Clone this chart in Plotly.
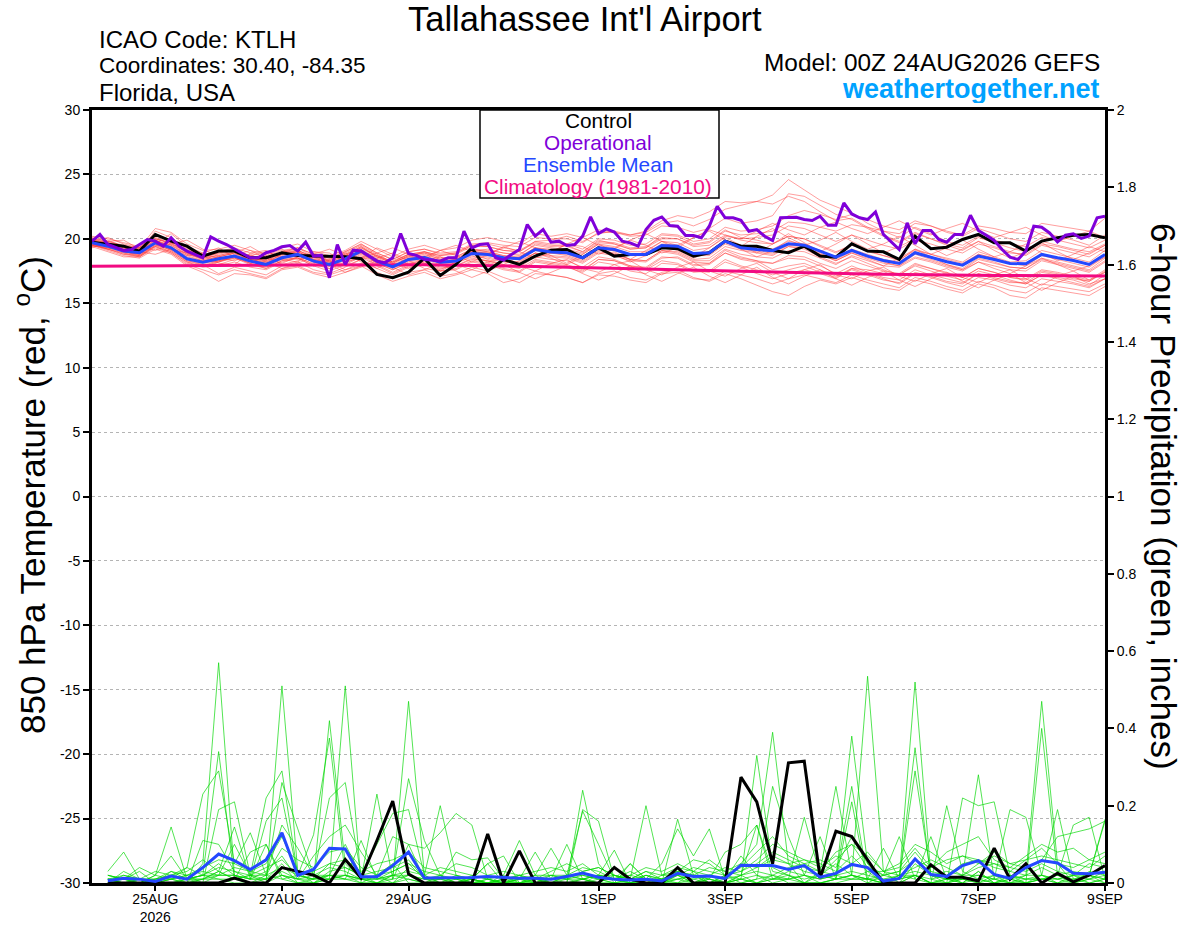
import pandas as pd
import plotly.graph_objects as go

# ---------------------------------------------------------------------------
# 850 hPa temperature (deg C), 6-hourly from 00Z 24AUG2026 (65 steps)
# ---------------------------------------------------------------------------
control_temp = [19.74, 19.56, 19.43, 19.05, 20.34, 19.82, 19.43, 18.66,
                19.05, 19.05, 18.53, 18.53, 18.92, 18.71, 18.66, 18.66,
                18.60, 18.45, 17.24, 16.98, 17.42, 18.50, 17.16, 18.01,
                19.30, 17.50, 18.40, 18.01, 18.66, 19.12, 19.17, 18.53,
                19.30, 18.66, 18.79, 18.79, 19.30, 19.23, 18.66, 18.92,
                19.82, 19.43, 19.43, 19.10, 18.92, 19.43, 18.66, 18.58,
                19.61, 19.05, 18.99, 18.40, 20.21, 19.23, 19.35, 19.95,
                20.34, 19.69, 19.69, 19.05, 19.82, 20.08, 20.28, 20.34, 20.08]

mean_temp = [19.69, 19.43, 19.05, 18.92, 19.69, 19.30, 18.45, 18.19,
             18.45, 18.66, 18.27, 18.01, 18.53, 18.79, 18.27, 18.01,
             18.45, 19.05, 18.27, 17.83, 18.40, 18.55, 18.19, 18.27,
             18.86, 18.79, 18.53, 18.45, 19.17, 18.97, 18.92, 18.53,
             19.30, 19.17, 18.79, 18.79, 19.48, 19.43, 18.86, 18.92,
             19.82, 19.30, 19.17, 19.08, 19.61, 19.51, 19.05, 18.58,
             19.10, 18.66, 18.32, 18.09, 18.92, 18.58, 18.22, 17.96,
             18.66, 18.40, 18.09, 18.06, 18.79, 18.53, 18.32, 18.01, 18.79]

clim_temp = [17.88, 17.89, 17.90, 17.90, 17.91, 17.92, 17.92, 17.93,
             17.93, 17.94, 17.94, 17.95, 17.95, 17.96, 17.96, 17.97,
             17.97, 17.98, 17.98, 17.98, 17.98, 17.98, 17.97, 17.96,
             17.94, 17.92, 17.90, 17.88, 17.85, 17.82, 17.79, 17.76,
             17.73, 17.70, 17.67, 17.64, 17.61, 17.58, 17.55, 17.52,
             17.49, 17.46, 17.43, 17.40, 17.37, 17.35, 17.33, 17.31,
             17.29, 17.27, 17.25, 17.23, 17.21, 17.20, 17.19, 17.18,
             17.17, 17.16, 17.15, 17.14, 17.13, 17.12, 17.12, 17.11, 17.11]

# operational run, 3-hourly (129 steps)
oper_temp = [19.82, 20.34, 19.56, 19.30, 19.10, 19.17, 19.56, 19.95,
             19.82, 19.43, 20.08, 19.43, 19.05, 18.79, 18.53, 20.15,
             19.82, 19.56, 19.23, 18.92, 18.53, 18.53, 18.92, 19.10,
             19.38, 19.48, 19.05, 19.74, 18.66, 18.71, 16.98, 19.56,
             18.01, 19.12, 19.05, 18.66, 18.27, 18.14, 18.53, 20.41,
             18.86, 18.71, 18.40, 18.35, 18.27, 18.53, 18.53, 20.59,
             19.30, 19.56, 19.61, 18.53, 18.35, 18.79, 19.17, 21.11,
             20.21, 20.72, 19.74, 19.82, 19.48, 19.56, 20.21, 21.70,
             20.41, 20.77, 20.52, 19.82, 19.69, 19.43, 20.72, 21.44,
             21.70, 21.03, 20.98, 20.26, 20.26, 20.08, 20.98, 22.53,
             21.63, 21.63, 21.44, 20.59, 20.72, 20.20, 19.87, 21.63,
             21.63, 21.68, 21.50, 21.42, 21.75, 21.06, 21.06, 22.79,
             21.93, 21.63, 21.50, 22.09, 20.34, 19.77, 19.17, 21.24,
             19.61, 20.65, 20.65, 19.95, 19.74, 20.34, 20.34, 21.83,
             20.65, 20.28, 19.87, 19.17, 18.58, 18.40, 19.05, 20.98,
             20.90, 20.46, 19.77, 20.28, 20.39, 20.03, 20.21, 21.63, 21.75]

# perturbed ensemble members (thin red lines)
member_temp = [
    [19.8, 20.1, 19.6, 19.3, 20.2, 19.8, 19.0, 18.7, 18.9, 19.2, 18.6, 18.3, 18.9, 19.3, 18.6, 18.4,
     18.9, 19.5, 18.8, 18.2, 18.6, 19.0, 18.7, 18.9, 19.5, 19.6, 19.3, 19.1, 19.8, 19.9, 20.2, 19.8,
     20.4, 20.6, 20.3, 20.5, 21.2, 21.4, 21.0, 21.5, 22.3, 22.6, 22.9, 23.4, 24.6, 23.8, 23.0, 22.5,
     22.0, 21.2, 20.6, 20.1, 20.9, 20.4, 19.8, 19.5, 20.2, 19.9, 19.6, 19.4, 20.1, 19.9, 19.6, 19.3, 19.9],
    [19.5, 19.1, 18.7, 18.5, 19.2, 18.8, 17.9, 17.4, 16.7, 17.3, 17.2, 16.9, 17.6, 17.8, 17.3, 17.0,
     17.4, 17.9, 17.2, 16.7, 17.1, 17.4, 16.9, 17.2, 17.6, 17.3, 16.6, 16.9, 17.5, 17.2, 17.0, 16.6,
     17.3, 17.5, 17.0, 16.8, 17.4, 17.6, 17.0, 16.7, 17.3, 16.9, 16.4, 15.9, 15.6, 16.3, 16.8, 16.5,
     17.0, 16.6, 16.2, 16.0, 16.8, 16.5, 16.1, 15.8, 16.5, 16.2, 15.6, 15.4, 16.2, 16.0, 15.8, 15.6, 16.3],
    [19.9, 19.6, 19.3, 19.1, 20.6, 20.1, 19.2, 18.6, 18.8, 19.1, 18.5, 18.4, 19.0, 19.1, 18.5, 18.2,
     18.7, 19.4, 18.6, 18.1, 18.7, 18.9, 18.6, 18.4, 19.0, 19.2, 18.9, 18.7, 19.6, 19.4, 19.5, 19.0,
     19.9, 19.6, 19.2, 19.3, 20.3, 20.2, 19.6, 19.8, 20.7, 20.1, 19.9, 19.6, 20.2, 20.0, 19.4, 18.9,
     19.6, 19.0, 18.7, 18.3, 19.2, 18.8, 18.5, 18.2, 19.0, 18.6, 18.2, 18.3, 19.1, 18.8, 18.5, 18.2, 19.1],
    [19.6, 19.3, 18.9, 18.6, 19.5, 19.0, 18.2, 17.8, 17.9, 18.2, 17.8, 17.6, 18.2, 18.5, 18.1, 17.7,
     18.1, 18.7, 18.0, 17.4, 18.0, 18.2, 17.7, 17.9, 18.4, 18.3, 18.0, 17.8, 18.6, 18.4, 18.3, 17.8,
     18.6, 18.4, 17.9, 17.7, 18.5, 18.6, 18.0, 18.1, 18.9, 18.4, 18.2, 18.1, 18.5, 18.4, 17.9, 17.3,
     17.9, 17.4, 17.0, 16.8, 17.6, 17.2, 16.9, 16.6, 17.3, 17.0, 16.7, 16.5, 17.2, 17.0, 16.8, 16.4, 17.2],
    [20.0, 19.7, 19.4, 19.3, 20.8, 20.5, 19.6, 19.1, 19.2, 19.5, 19.1, 18.8, 19.3, 19.6, 19.0, 18.7,
     19.1, 19.8, 19.2, 18.6, 19.2, 19.5, 19.1, 19.3, 19.9, 20.1, 19.8, 19.6, 20.4, 20.2, 20.4, 20.1,
     20.7, 20.5, 20.2, 20.3, 21.0, 20.9, 20.5, 20.8, 21.6, 21.2, 21.4, 21.8, 23.5, 23.3, 22.6, 21.9,
     21.5, 20.8, 20.2, 19.7, 20.4, 20.0, 19.6, 19.3, 20.1, 19.7, 19.3, 19.0, 19.8, 19.5, 19.2, 19.0, 19.6],
    [19.4, 19.0, 18.6, 18.6, 19.3, 18.9, 18.1, 17.9, 18.2, 18.6, 18.1, 17.8, 18.4, 18.7, 18.2, 17.9,
     18.4, 18.9, 18.1, 17.6, 18.2, 18.4, 18.0, 18.1, 18.6, 18.5, 18.2, 18.1, 18.9, 18.6, 18.5, 18.1,
     18.9, 18.7, 18.3, 18.2, 19.0, 18.8, 18.2, 18.1, 19.1, 18.6, 18.3, 17.6, 17.9, 18.1, 17.6, 17.1,
     17.7, 17.3, 16.9, 16.5, 17.3, 17.0, 16.6, 16.3, 17.0, 16.8, 16.4, 16.2, 16.9, 16.7, 16.5, 16.2, 16.9],
    [19.7, 19.5, 19.1, 18.9, 19.9, 19.4, 18.6, 18.3, 18.5, 18.7, 18.3, 18.0, 18.6, 18.9, 18.3, 18.0,
     18.5, 19.0, 18.3, 17.9, 18.5, 18.6, 18.2, 18.4, 19.0, 18.9, 18.6, 18.5, 19.2, 19.0, 18.9, 18.5,
     19.3, 19.2, 18.8, 18.9, 19.6, 19.5, 18.9, 19.0, 19.9, 19.5, 19.3, 19.2, 19.8, 19.6, 19.1, 18.6,
     19.2, 18.8, 18.4, 18.2, 19.0, 18.6, 18.3, 18.0, 18.8, 18.5, 18.1, 18.0, 18.8, 18.5, 18.3, 18.0, 18.8],
    [19.8, 19.6, 19.2, 18.9, 19.8, 19.5, 18.8, 18.5, 18.7, 19.0, 18.5, 18.3, 18.9, 19.1, 18.6, 18.3,
     18.8, 19.3, 18.6, 18.1, 18.7, 18.9, 18.4, 18.6, 19.2, 19.1, 18.9, 18.8, 19.5, 19.3, 19.2, 18.9,
     19.7, 19.6, 19.2, 19.3, 20.0, 20.0, 19.5, 19.7, 20.6, 20.3, 20.4, 20.6, 21.3, 21.2, 20.9, 20.6,
     21.1, 20.9, 20.6, 20.4, 21.2, 21.0, 20.6, 20.3, 21.0, 20.8, 20.5, 20.4, 21.2, 21.0, 20.8, 20.6, 21.6],
    [19.6, 19.2, 18.8, 18.7, 19.6, 19.1, 18.3, 18.0, 17.3, 17.8, 17.5, 17.2, 17.9, 18.2, 17.6, 17.3,
     17.8, 18.4, 17.7, 17.2, 17.8, 18.0, 17.5, 17.6, 18.2, 18.0, 17.6, 17.4, 18.2, 18.0, 17.8, 17.4,
     18.2, 18.0, 17.5, 17.3, 18.1, 18.0, 17.4, 17.5, 18.4, 17.9, 17.6, 17.2, 17.6, 17.9, 17.4, 17.0,
     17.6, 17.2, 16.8, 16.6, 17.4, 17.1, 16.7, 16.5, 17.3, 16.9, 16.6, 16.6, 17.4, 17.2, 16.9, 16.7, 17.5],
    [19.9, 19.7, 19.3, 19.0, 20.0, 19.7, 18.9, 18.6, 18.9, 19.1, 18.7, 18.4, 19.0, 19.3, 18.8, 18.5,
     19.0, 19.6, 18.9, 18.4, 19.0, 19.2, 18.9, 19.0, 19.6, 19.7, 19.5, 19.4, 20.1, 20.0, 20.0, 19.7,
     20.5, 20.5, 20.3, 20.6, 21.4, 21.8, 21.6, 22.1, 22.9, 22.8, 22.9, 22.7, 23.3, 22.9, 22.1, 21.4,
     21.6, 20.9, 20.3, 19.8, 20.5, 20.0, 19.5, 19.1, 19.8, 19.4, 19.0, 18.7, 19.5, 19.2, 18.9, 18.6, 19.3],
    [19.5, 19.3, 19.0, 18.8, 19.7, 19.2, 18.5, 18.2, 18.3, 18.5, 18.1, 17.7, 18.3, 18.6, 18.0, 17.7,
     18.2, 18.8, 18.1, 17.6, 18.1, 18.3, 17.8, 17.9, 18.5, 18.3, 17.9, 17.7, 18.4, 18.2, 18.0, 17.6,
     18.4, 18.3, 17.8, 17.6, 18.3, 18.1, 17.5, 17.4, 18.2, 17.8, 17.3, 16.9, 17.3, 17.6, 17.3, 16.9,
     17.7, 17.6, 17.3, 17.2, 18.0, 17.7, 17.4, 17.0, 17.7, 17.4, 17.0, 16.9, 17.6, 17.4, 17.1, 16.8, 17.6],
    [19.7, 19.4, 19.0, 18.8, 19.7, 19.2, 18.4, 18.2, 18.4, 18.8, 18.4, 18.1, 18.7, 19.0, 18.4, 18.1,
     18.6, 19.2, 18.5, 18.0, 18.6, 18.8, 18.4, 18.5, 19.1, 19.0, 18.7, 18.6, 19.3, 19.1, 19.0, 18.6,
     19.4, 19.2, 18.8, 18.7, 19.5, 19.4, 18.8, 18.8, 19.7, 19.3, 19.1, 18.9, 19.5, 19.4, 18.9, 18.4,
     19.0, 18.6, 18.2, 17.9, 18.8, 18.4, 18.0, 17.7, 18.5, 18.2, 17.8, 17.7, 18.5, 18.2, 17.9, 17.6, 18.5],
    [20.0, 19.8, 19.4, 19.2, 20.1, 19.6, 18.8, 18.4, 18.6, 18.9, 18.4, 18.1, 18.8, 19.0, 18.4, 18.2,
     18.7, 19.3, 18.7, 18.2, 18.8, 19.0, 18.7, 18.8, 19.4, 19.4, 19.1, 19.0, 19.8, 19.6, 19.6, 19.2,
     20.0, 19.9, 19.5, 19.6, 20.4, 20.3, 19.8, 20.0, 20.9, 20.6, 20.7, 21.0, 21.8, 22.2, 21.9, 21.5,
     21.9, 21.5, 21.0, 20.7, 21.4, 21.0, 20.5, 20.2, 20.8, 20.4, 20.0, 19.8, 20.5, 20.2, 19.9, 19.5, 20.3],
    [19.6, 19.2, 18.9, 18.7, 19.4, 19.0, 18.2, 18.0, 18.2, 18.5, 18.0, 17.7, 18.3, 18.5, 17.9, 17.5,
     18.0, 18.6, 17.9, 17.3, 17.9, 18.1, 17.5, 17.7, 18.3, 18.1, 17.7, 17.5, 18.3, 18.1, 17.9, 17.5,
     18.4, 18.3, 17.9, 17.8, 18.6, 18.5, 17.9, 18.0, 18.9, 18.5, 18.3, 18.1, 18.7, 18.6, 18.1, 17.7,
     18.3, 17.9, 17.5, 17.3, 18.1, 17.7, 17.3, 17.0, 17.7, 17.4, 17.0, 16.8, 17.5, 17.3, 17.0, 16.7, 17.4],
    [19.8, 19.5, 19.1, 19.0, 19.9, 19.5, 18.7, 18.3, 18.6, 18.9, 18.4, 18.2, 18.8, 19.0, 18.4, 18.1,
     18.6, 19.1, 18.4, 17.9, 18.5, 18.7, 18.3, 18.4, 19.0, 18.9, 18.6, 18.4, 19.1, 18.9, 18.7, 18.3,
     19.1, 18.9, 18.4, 18.3, 19.1, 19.0, 18.4, 18.5, 19.4, 19.1, 18.9, 18.7, 19.4, 19.2, 18.6, 18.1,
     18.6, 18.1, 17.6, 17.2, 17.9, 17.5, 17.1, 16.8, 17.5, 17.2, 16.8, 16.5, 17.2, 16.9, 16.6, 16.3, 16.9],
    [19.5, 19.2, 18.8, 18.6, 19.4, 18.9, 18.0, 17.6, 17.2, 17.6, 17.3, 17.0, 17.7, 17.9, 17.4, 17.2,
     17.6, 18.1, 17.4, 16.9, 17.4, 17.6, 17.1, 17.3, 17.8, 17.5, 17.0, 16.6, 17.3, 17.2, 17.0, 16.6,
     17.2, 17.1, 16.8, 16.6, 17.3, 17.4, 16.9, 16.8, 17.5, 17.2, 16.9, 16.5, 16.9, 17.2, 16.9, 16.6,
     17.2, 16.8, 16.5, 16.2, 17.0, 16.7, 16.3, 16.0, 16.7, 16.4, 16.0, 15.8, 16.5, 16.3, 16.1, 15.9, 16.5],
    [19.9, 19.5, 19.1, 18.9, 20.0, 19.7, 18.9, 18.5, 18.7, 19.0, 18.5, 18.2, 18.8, 19.1, 18.6, 18.3,
     18.8, 19.4, 18.7, 18.2, 18.8, 19.0, 18.5, 18.6, 19.2, 19.0, 18.7, 18.5, 19.3, 19.2, 19.1, 18.8,
     19.6, 19.4, 19.0, 19.0, 19.8, 19.7, 19.1, 19.3, 20.2, 20.0, 20.1, 20.3, 21.0, 20.8, 20.3, 19.8,
     20.3, 19.9, 19.5, 19.2, 19.9, 19.6, 19.2, 18.9, 19.6, 19.3, 18.9, 18.8, 19.6, 19.4, 19.1, 18.8, 19.5],
    [19.7, 19.4, 19.0, 18.8, 19.6, 19.1, 18.3, 18.1, 18.3, 18.6, 18.2, 17.9, 18.5, 18.7, 18.2, 17.9,
     18.3, 18.9, 18.2, 17.7, 18.3, 18.5, 18.1, 18.2, 18.8, 18.6, 18.3, 18.2, 18.9, 18.7, 18.6, 18.2,
     19.0, 18.8, 18.4, 18.3, 19.1, 18.9, 18.3, 18.3, 19.2, 18.8, 18.6, 18.5, 19.1, 19.0, 18.5, 18.0,
     18.7, 18.3, 17.9, 17.8, 18.5, 18.2, 17.8, 17.5, 18.2, 17.9, 17.6, 17.5, 18.3, 18.0, 17.7, 17.4, 18.2],
    [20.1, 19.8, 19.5, 19.3, 20.4, 19.9, 19.1, 18.8, 19.0, 19.3, 18.9, 18.6, 19.1, 19.3, 18.8, 18.5,
     19.0, 19.6, 18.9, 18.4, 19.0, 19.2, 18.8, 18.9, 19.5, 19.4, 19.1, 19.0, 19.7, 19.5, 19.4, 19.0,
     19.8, 19.7, 19.3, 19.4, 20.1, 20.0, 19.4, 19.5, 20.3, 19.9, 19.7, 19.6, 20.2, 20.0, 19.5, 19.0,
     19.5, 19.1, 18.7, 18.4, 19.1, 18.8, 18.4, 18.1, 18.8, 18.5, 18.1, 17.9, 18.7, 18.4, 18.1, 17.8, 18.6],
    [19.6, 19.4, 19.0, 18.7, 19.5, 19.2, 18.5, 18.2, 18.3, 18.7, 18.3, 18.0, 18.5, 18.8, 18.3, 18.0,
     18.4, 19.0, 18.4, 17.9, 18.4, 18.6, 18.2, 18.3, 18.9, 18.8, 18.5, 18.4, 19.1, 18.9, 18.8, 18.4,
     19.2, 19.1, 18.7, 18.7, 19.4, 19.3, 18.7, 18.7, 19.6, 19.2, 19.0, 18.8, 19.4, 19.3, 18.8, 18.3,
     18.9, 18.5, 18.1, 17.9, 18.6, 18.3, 17.9, 17.6, 18.4, 18.1, 17.8, 17.7, 18.4, 18.1, 17.8, 17.5, 18.3],
    [19.3, 19.8, 19.9, 19.2, 19.6, 20.4, 19.4, 18.9, 18.1, 18.0, 18.9, 19.1, 18.4, 18.2, 19.0, 18.9,
     18.2, 18.5, 19.3, 18.8, 18.0, 18.4, 19.1, 18.7, 18.2, 18.8, 19.4, 19.0, 18.5, 18.9, 19.6, 19.4,
     18.8, 19.2, 19.9, 19.5, 18.9, 19.3, 20.1, 20.6, 19.9, 19.4, 20.2, 20.8, 20.1, 19.5, 19.9, 20.5,
     19.8, 19.2, 19.6, 20.2, 19.5, 18.8, 19.3, 19.9, 19.2, 18.6, 19.0, 19.6, 18.9, 18.3, 18.8, 19.4, 19.0],
    [20.2, 20.0, 19.7, 19.4, 19.1, 19.6, 19.9, 19.2, 18.6, 18.9, 19.4, 18.7, 18.0, 18.3, 18.8, 18.2,
     17.6, 17.9, 18.5, 18.9, 18.3, 17.7, 17.5, 18.1, 18.7, 18.2, 17.8, 18.3, 18.9, 18.5, 18.0, 18.6,
     19.3, 18.8, 18.2, 18.7, 19.5, 19.1, 18.5, 19.0, 19.8, 19.2, 18.6, 19.1, 19.9, 19.4, 18.8, 18.3,
     18.9, 18.4, 17.9, 18.5, 19.2, 18.6, 18.0, 17.6, 18.2, 17.7, 17.3, 17.9, 18.5, 18.0, 17.5, 17.9, 18.6],
    [19.4, 19.6, 19.2, 19.5, 19.9, 19.3, 18.7, 18.9, 19.3, 18.6, 18.1, 18.7, 19.2, 18.5, 17.9, 18.4,
     18.9, 18.2, 17.7, 18.3, 18.8, 18.1, 17.6, 18.2, 18.9, 18.4, 18.0, 18.6, 19.3, 18.7, 18.1, 18.8,
     19.6, 19.0, 18.4, 19.1, 19.8, 19.2, 18.6, 19.3, 20.1, 19.5, 18.9, 19.6, 20.4, 19.7, 19.0, 19.6,
     20.3, 19.6, 18.9, 19.4, 20.0, 19.3, 18.7, 19.2, 19.8, 19.1, 18.5, 19.0, 19.7, 19.0, 18.4, 18.9, 19.5],
    [19.5, 19.2, 19.5, 19.0, 18.8, 19.2, 18.9, 18.4, 18.0, 18.4, 18.8, 18.2, 17.7, 18.1, 18.6, 18.0,
     17.4, 17.8, 18.3, 17.8, 17.2, 17.6, 18.1, 17.5, 17.0, 17.5, 18.0, 17.4, 16.9, 17.4, 17.9, 17.3,
     16.8, 17.3, 17.9, 17.2, 16.7, 17.3, 17.8, 17.1, 16.6, 17.2, 17.8, 17.0, 16.5, 17.1, 17.6, 16.9,
     16.4, 17.0, 17.5, 16.8, 16.3, 16.9, 17.4, 16.7, 16.2, 16.8, 17.3, 16.6, 16.0, 16.6, 17.1, 16.5, 16.9],
    [19.8, 19.5, 19.0, 19.3, 20.0, 19.6, 19.0, 18.8, 18.5, 18.3, 18.7, 19.0, 18.6, 18.4, 18.8, 19.2,
     18.7, 18.5, 18.9, 19.3, 18.8, 18.6, 19.1, 19.5, 19.0, 18.8, 19.3, 19.8, 19.3, 19.0, 19.6, 20.1,
     19.5, 19.3, 19.9, 20.4, 19.8, 19.5, 20.1, 20.7, 20.3, 20.0, 20.6, 21.2, 20.7, 20.3, 20.9, 21.3,
     20.8, 20.4, 20.9, 21.4, 20.8, 20.3, 20.8, 21.2, 20.6, 20.1, 20.5, 20.9, 20.3, 19.8, 20.2, 20.6, 20.1],
    [19.6, 19.9, 19.4, 18.9, 19.4, 19.9, 19.3, 18.6, 18.2, 18.7, 19.1, 18.5, 18.1, 18.6, 18.9, 18.3,
     17.9, 18.4, 18.7, 18.1, 17.7, 18.3, 18.6, 18.0, 17.6, 18.2, 18.5, 17.9, 17.5, 18.1, 18.4, 17.7,
     17.4, 18.0, 18.3, 17.6, 17.2, 17.8, 18.2, 17.5, 17.1, 17.7, 18.1, 17.4, 16.9, 17.6, 18.0, 17.2,
     16.9, 17.5, 17.8, 17.1, 16.7, 17.3, 17.7, 17.0, 16.6, 17.2, 17.6, 16.9, 16.4, 17.1, 17.5, 16.8, 17.4],
]

# ---------------------------------------------------------------------------
# 6-hour precipitation (inches), 06Z 24AUG2026 .. 00Z 9SEP2026 (64 steps)
# ---------------------------------------------------------------------------
control_pcp = [0, 0, 0, 0, 0, 0, 0, 0, 0.013, 0, 0, 0.04, 0.03, 0.02, 0, 0.061,
               0.013, 0.11, 0.212, 0.023, 0, 0, 0, 0, 0.127, 0, 0.083, 0, 0, 0, 0, 0,
               0.04, 0.01, 0, 0, 0.04, 0, 0, 0, 0.274, 0.21, 0.05, 0.311, 0.315, 0.013, 0.134, 0.12,
               0.06, 0, 0, 0, 0.047, 0.015, 0.015, 0.005, 0.09, 0.01, 0.05, 0, 0.025, 0.003, 0.02, 0.045]

mean_pcp = [0.006, 0.012, 0.01, 0.004, 0.018, 0.01, 0.04, 0.075, 0.058, 0.035, 0.06, 0.13, 0.02, 0.035, 0.09, 0.088,
            0.016, 0.016, 0.045, 0.08, 0.013, 0.013, 0.013, 0.014, 0.017, 0.015, 0.012, 0.012, 0.01, 0.017, 0.026, 0.015,
            0.01, 0.008, 0.01, 0.005, 0.025, 0.017, 0.018, 0.012, 0.046, 0.045, 0.045, 0.035, 0.045, 0.015, 0.025, 0.048,
            0.04, 0.005, 0.012, 0.062, 0.022, 0.017, 0.045, 0.058, 0.022, 0.012, 0.04, 0.058, 0.052, 0.025, 0.024, 0.028]

member_pcp = [
    [0.03, 0.08, 0.01, 0, 0.02, 0, 0.05, 0.57, 0.02, 0, 0.01, 0.05, 0, 0, 0.02, 0.1,
     0.02, 0, 0, 0.01, 0, 0.02, 0, 0, 0, 0, 0.01, 0, 0, 0, 0.24, 0.05,
     0, 0, 0.01, 0, 0.02, 0, 0, 0.01, 0.05, 0.1, 0.39, 0.05, 0, 0.02, 0.05, 0.02,
     0, 0, 0.01, 0.02, 0, 0.01, 0, 0.03, 0, 0.01, 0.02, 0.47, 0.05, 0, 0.02, 0.01],
    [0.02, 0.01, 0.04, 0.02, 0.145, 0.01, 0.02, 0.34, 0.01, 0.02, 0, 0.51, 0.03, 0, 0.01, 0.02,
     0, 0.02, 0.05, 0, 0, 0, 0.02, 0, 0.01, 0, 0, 0.02, 0, 0.01, 0, 0.02,
     0.01, 0, 0, 0, 0, 0.03, 0, 0.02, 0, 0.01, 0.02, 0, 0, 0, 0.01, 0.38,
     0.05, 0, 0, 0.02, 0, 0, 0.01, 0, 0.02, 0, 0, 0.01, 0, 0.02, 0.01, 0.03],
    [0, 0.03, 0.01, 0, 0.01, 0.04, 0.23, 0.29, 0.05, 0.13, 0.02, 0.01, 0, 0.01, 0.42, 0.05,
     0.01, 0, 0.02, 0.03, 0.02, 0, 0.01, 0, 0, 0.01, 0, 0, 0.01, 0, 0, 0.01,
     0, 0.05, 0.01, 0, 0.01, 0, 0.02, 0, 0.01, 0.33, 0.04, 0.02, 0, 0, 0.01, 0.02,
     0.535, 0.03, 0, 0.05, 0.02, 0, 0.01, 0.01, 0, 0.02, 0, 0.01, 0.01, 0, 0.03, 0.02],
    [0.01, 0, 0, 0.02, 0.07, 0.01, 0, 0.19, 0.21, 0.02, 0.22, 0.29, 0.02, 0.01, 0.01, 0.51,
     0, 0, 0.02, 0.01, 0, 0.01, 0, 0.02, 0.01, 0, 0.02, 0, 0, 0.02, 0.01, 0,
     0.02, 0, 0, 0.01, 0, 0, 0.01, 0, 0.02, 0, 0.01, 0.02, 0, 0.03, 0.25, 0.02,
     0.01, 0, 0.01, 0.52, 0.02, 0.01, 0, 0.03, 0, 0, 0.01, 0.02, 0.01, 0.02, 0, 0.01],
    [0.02, 0.01, 0.03, 0, 0.01, 0, 0.11, 0.1, 0.03, 0.01, 0.01, 0.26, 0.14, 0.02, 0.02, 0.01,
     0.01, 0.23, 0.01, 0.47, 0.02, 0, 0, 0.01, 0, 0.02, 0, 0.01, 0, 0, 0.19, 0.16,
     0.01, 0, 0.02, 0, 0.01, 0.02, 0, 0, 0, 0.01, 0.25, 0.12, 0.02, 0, 0, 0.01,
     0.03, 0, 0.02, 0.01, 0, 0, 0.02, 0.28, 0.01, 0, 0.02, 0.02, 0, 0.01, 0.02, 0],
    [0, 0, 0.01, 0.01, 0.02, 0.03, 0.06, 0.03, 0.145, 0.01, 0.16, 0.22, 0.02, 0.125, 0.375, 0.02,
     0.01, 0.01, 0.02, 0.27, 0.11, 0.02, 0, 0.01, 0, 0, 0.01, 0, 0.02, 0.01, 0.01, 0,
     0, 0.01, 0.2, 0.02, 0.02, 0, 0.01, 0, 0.01, 0.02, 0, 0.01, 0.17, 0.02, 0.01, 0.21,
     0, 0.02, 0.01, 0.35, 0.01, 0.02, 0, 0.01, 0, 0.01, 0, 0.40, 0.02, 0, 0.01, 0.02],
    [0.01, 0.01, 0, 0.02, 0.01, 0.02, 0.03, 0.02, 0.1, 0.02, 0.02, 0.15, 0.09, 0.02, 0.22, 0.26,
     0.02, 0.1, 0.18, 0.19, 0.02, 0.2, 0.02, 0.01, 0.05, 0.07, 0, 0.01, 0.01, 0.1, 0.01, 0.02,
     0.085, 0, 0.02, 0.01, 0.03, 0.02, 0, 0.02, 0.01, 0, 0.01, 0.03, 0.02, 0.01, 0.02, 0.25,
     0.01, 0, 0.02, 0.02, 0, 0.2, 0.03, 0.01, 0.02, 0.01, 0, 0.02, 0.19, 0.01, 0, 0.01],
    [0, 0.02, 0.01, 0, 0.01, 0, 0.01, 0.03, 0.01, 0.08, 0.1, 0.02, 0.01, 0.07, 0.12, 0.15,
     0.08, 0.02, 0.12, 0.1, 0.09, 0.13, 0.18, 0.15, 0.01, 0.02, 0.11, 0.02, 0.09, 0.02, 0.02, 0.01,
     0.01, 0.03, 0.01, 0, 0.165, 0.02, 0.01, 0, 0.02, 0.15, 0.01, 0.01, 0.02, 0.01, 0.02, 0.01,
     0.01, 0.09, 0.01, 0.02, 0.01, 0, 0.22, 0.2, 0.21, 0.02, 0.01, 0.01, 0.02, 0.01, 0.02, 0.165],
    [0.02, 0.01, 0, 0.01, 0.03, 0.01, 0.02, 0.02, 0.02, 0.01, 0.1, 0.01, 0.02, 0.01, 0.02, 0.02,
     0.01, 0.01, 0.02, 0.02, 0.01, 0.01, 0.08, 0.06, 0.065, 0.01, 0.01, 0.08, 0.01, 0.02, 0.186, 0.1,
     0.01, 0.05, 0.01, 0.05, 0.14, 0.07, 0.14, 0.01, 0.07, 0.02, 0.01, 0.01, 0.02, 0.12, 0.01, 0.01,
     0.01, 0.02, 0.12, 0.01, 0.12, 0.01, 0.01, 0.02, 0.01, 0.19, 0.17, 0.02, 0.01, 0.02, 0.02, 0.16],
    [0, 0, 0.01, 0.03, 0.02, 0.04, 0.02, 0.01, 0.01, 0.02, 0.01, 0.02, 0.01, 0.01, 0.02, 0.01,
     0.11, 0.01, 0.01, 0.1, 0.01, 0.02, 0.01, 0.01, 0.05, 0, 0.01, 0.01, 0.02, 0.02, 0.01, 0.02,
     0.02, 0.01, 0.01, 0.01, 0.01, 0.02, 0.01, 0.08, 0.1, 0.15, 0.03, 0.02, 0.01, 0.02, 0.01, 0.02,
     0.01, 0.01, 0.01, 0.29, 0.02, 0.01, 0.02, 0.02, 0.01, 0.02, 0.01, 0.01, 0.02, 0.15, 0.17, 0.01],
    [0.01, 0, 0, 0, 0, 0.01, 0.02, 0.05, 0.02, 0.01, 0.03, 0.07, 0.01, 0, 0.03, 0.04,
     0.02, 0.03, 0.04, 0.06, 0.01, 0, 0, 0.01, 0, 0.01, 0.02, 0.03, 0.04, 0.03, 0.05, 0.02,
     0.01, 0, 0, 0.02, 0.04, 0.03, 0.06, 0.03, 0.02, 0.04, 0.06, 0.05, 0.03, 0.02, 0.06, 0.1,
     0.04, 0.02, 0.03, 0.08, 0.03, 0.02, 0.05, 0.06, 0.04, 0.03, 0.06, 0.09, 0.05, 0.04, 0.06, 0.08],
    [0, 0, 0, 0.01, 0.01, 0.02, 0, 0.02, 0.04, 0.03, 0.05, 0.12, 0.03, 0.02, 0.04, 0.03,
     0.01, 0.02, 0, 0.04, 0.02, 0.04, 0.03, 0.02, 0.01, 0, 0, 0, 0.01, 0.01, 0.03, 0.04,
     0.02, 0.01, 0.03, 0.01, 0.02, 0.04, 0.03, 0.02, 0.03, 0.06, 0.1, 0.08, 0.06, 0.05, 0.03, 0.07,
     0.03, 0.03, 0.02, 0.04, 0.06, 0.04, 0.02, 0.05, 0.07, 0.05, 0.04, 0.06, 0.12, 0.13, 0.14, 0.16],
    [0.01, 0.01, 0.01, 0, 0.03, 0.02, 0.04, 0.06, 0.05, 0.03, 0.02, 0.09, 0.06, 0.04, 0.08, 0.09,
     0.04, 0.02, 0.03, 0.05, 0.01, 0.01, 0.01, 0, 0, 0.01, 0.02, 0.01, 0, 0.02, 0.04, 0.03,
     0.01, 0.02, 0.04, 0.03, 0.05, 0.03, 0.02, 0.04, 0.03, 0.05, 0.08, 0.06, 0.04, 0.03, 0.08, 0.1,
     0.07, 0.03, 0.05, 0.1, 0.08, 0.05, 0.07, 0.06, 0.05, 0.04, 0.07, 0.1, 0.08, 0.09, 0.06, 0.05],
    [0, 0.01, 0, 0, 0.02, 0.01, 0.01, 0.03, 0.01, 0, 0.02, 0.04, 0.02, 0.01, 0.05, 0.06,
     0.03, 0.05, 0.06, 0.08, 0.04, 0.03, 0.02, 0.01, 0, 0, 0.01, 0.02, 0.02, 0.01, 0.02, 0.01,
     0, 0.01, 0.02, 0.01, 0.03, 0.06, 0.05, 0.02, 0.04, 0.08, 0.12, 0.07, 0.05, 0.06, 0.04, 0.12,
     0.05, 0.02, 0.03, 0.06, 0.04, 0.08, 0.1, 0.12, 0.06, 0.04, 0.03, 0.05, 0.03, 0.02, 0.05, 0.04],
    [0.01, 0, 0.01, 0, 0, 0.01, 0.01, 0.02, 0.02, 0.01, 0.01, 0.03, 0.01, 0.02, 0.01, 0.02,
     0.01, 0, 0.01, 0.02, 0.01, 0.01, 0, 0, 0.01, 0, 0, 0.01, 0, 0, 0.01, 0.02,
     0.01, 0.02, 0.01, 0, 0.02, 0.01, 0.02, 0.01, 0.02, 0.03, 0.02, 0.04, 0.05, 0.03, 0.02, 0.03,
     0.02, 0.01, 0.02, 0.03, 0.02, 0.03, 0.02, 0.04, 0.05, 0.03, 0.02, 0.04, 0.02, 0.03, 0.02, 0.01],
    [0, 0, 0, 0, 0, 0, 0.01, 0.01, 0, 0, 0, 0.02, 0, 0, 0.01, 0.01,
     0, 0, 0, 0.02, 0, 0, 0, 0, 0, 0, 0, 0, 0, 0, 0.01, 0,
     0, 0, 0, 0, 0, 0.01, 0, 0, 0.01, 0, 0.02, 0.01, 0, 0, 0.01, 0.02,
     0.01, 0, 0, 0.02, 0, 0.01, 0.01, 0, 0.01, 0, 0, 0.01, 0, 0, 0.01, 0],
    [0.01, 0.02, 0.01, 0.01, 0.02, 0.01, 0.02, 0.04, 0.03, 0.02, 0.04, 0.06, 0.02, 0.03, 0.05, 0.04,
     0.02, 0.01, 0.03, 0.05, 0.03, 0.02, 0.05, 0.04, 0.02, 0.03, 0.02, 0.01, 0.03, 0.05, 0.03, 0.04,
     0.02, 0.01, 0.03, 0.02, 0.03, 0.02, 0.04, 0.03, 0.05, 0.04, 0.07, 0.05, 0.06, 0.04, 0.07, 0.05,
     0.08, 0.03, 0.04, 0.09, 0.04, 0.06, 0.07, 0.05, 0.08, 0.05, 0.06, 0.07, 0.06, 0.05, 0.04, 0.07],
]

# axis labels
temp_ticks = [30, 25, 20, 15, 10, 5, 0, -5, -10, -15, -20, -25, -30]
temp_ticktext = ["30", "25", "20", "15", "10", "5", "0", "-5", "-10", "-15", "-20", "-25", "-30"]
pcp_ticks = [0, 0.2, 0.4, 0.6, 0.8, 1, 1.2, 1.4, 1.6, 1.8, 2]
pcp_ticktext = ["0", "0.2", "0.4", "0.6", "0.8", "1", "1.2", "1.4", "1.6", "1.8", "2"]
date_ticks = ["2026-08-25", "2026-08-27", "2026-08-29", "2026-09-01",
              "2026-09-03", "2026-09-05", "2026-09-07", "2026-09-09"]
date_ticktext = ["25AUG<br>2026", "27AUG", "29AUG", "1SEP", "3SEP", "5SEP", "7SEP", "9SEP"]

times6 = pd.date_range("2026-08-24 00:00", periods=len(control_temp), freq="6h")
times3 = pd.date_range("2026-08-24 00:00", periods=len(oper_temp), freq="3h")
times_pcp = pd.date_range("2026-08-24 06:00", periods=len(control_pcp), freq="6h")

RED = "rgba(255,50,50,0.6)"
GREEN = "rgba(0,215,0,0.85)"
PURPLE = "#7F00D9"
BLUE = "#2448FF"
PINK = "#F20A82"
FONT = "Liberation Sans, Arial, sans-serif"
NARROW = "Liberation Sans Narrow, Liberation Sans, Arial, sans-serif"

fig = go.Figure()

# precipitation (right axis)
for m in member_pcp:
    fig.add_trace(go.Scatter(x=times_pcp, y=m, yaxis="y2", mode="lines",
                             line=dict(color=GREEN, width=0.8), hoverinfo="skip"))
fig.add_trace(go.Scatter(x=times_pcp, y=control_pcp, yaxis="y2", mode="lines",
                         line=dict(color="black", width=3)))
fig.add_trace(go.Scatter(x=times_pcp, y=mean_pcp, yaxis="y2", mode="lines",
                         line=dict(color=BLUE, width=3)))

# temperature (left axis)
for m in member_temp:
    fig.add_trace(go.Scatter(x=times6, y=m, yaxis="y", mode="lines",
                             line=dict(color=RED, width=0.8), hoverinfo="skip"))
fig.add_trace(go.Scatter(x=times6, y=clim_temp, mode="lines", line=dict(color=PINK, width=3)))
fig.add_trace(go.Scatter(x=times6, y=control_temp, mode="lines", line=dict(color="black", width=3)))
fig.add_trace(go.Scatter(x=times6, y=mean_temp, mode="lines", line=dict(color=BLUE, width=3)))
fig.add_trace(go.Scatter(x=times3, y=oper_temp, mode="lines", line=dict(color=PURPLE, width=3)))

# plot box in page pixels (page margin removed and automargin off, so these are exact)
L, R, T, B = 92, 1105, 110, 883


def px(x):
    return (x - L) / (R - L)


def py(y):
    return (B - y) / (B - T)


def label(text, x, y, size, color="black", xanchor="left", angle=0, bold=False, height=None):
    if bold:
        text = "<b>" + text + "</b>"
    fig.add_annotation(text=text, x=px(x), y=py(y), xref="paper", yref="paper",
                       xanchor=xanchor, yanchor="middle", showarrow=False, textangle=angle,
                       height=height, font=dict(family=FONT, size=size, color=color))


label("Tallahassee Int'l Airport", 585, 19, 34.5, xanchor="center", height=36)
label("ICAO Code: KTLH", 97, 40, 24)
label("Coordinates: 30.40, -84.35", 97, 66, 22.5)
label("Florida, USA", 97, 93, 24)
label("Model: 00Z 24AUG2026 GEFS", 1102, 62, 24.4, xanchor="right", height=26)
label("weathertogether.net", 1102, 89, 27, color="#00A2FF", xanchor="right", bold=True, height=28)

# legend box
fig.add_shape(type="rect", xref="paper", yref="paper", x0=px(480), x1=px(719),
              y0=py(198), y1=py(110), line=dict(color="black", width=1.5),
              fillcolor="white", layer="above")
label("Control", 598, 121, 20.8, xanchor="center")
label("Operational", 598, 142, 20.8, color=PURPLE, xanchor="center")
label("Ensemble Mean", 598, 164, 20.8, color=BLUE, xanchor="center")
label("Climatology (1981-2010)", 598, 186, 20.8, color=PINK, xanchor="center")

# axis titles
label("850 hPa Temperature (red, <sup>o</sup>C)", 30, 495, 35, xanchor="center", angle=-90)
label("6-hour Precipitation (green, inches)", 1164, 496, 35, xanchor="center", angle=90)

fig.update_layout(
    width=1200, height=927, autosize=False,
    margin=dict(l=L, r=1200 - R, t=T, b=927 - B),
    paper_bgcolor="white", plot_bgcolor="white",
    showlegend=False,
    font=dict(family=NARROW, size=14, color="black"),
    xaxis=dict(range=["2026-08-24 00:00", "2026-09-09 00:00"],
               tickvals=date_ticks, ticktext=date_ticktext, automargin=False,
               ticks="outside", ticklen=5, tickwidth=1.5, tickcolor="black",
               ticklabelstandoff=-4,
               showgrid=False, zeroline=False,
               showline=True, linecolor="black", linewidth=3, mirror=True,
               tickfont=dict(family=NARROW, size=14)),
    yaxis=dict(range=[-30, 30], tickvals=temp_ticks, ticktext=temp_ticktext, automargin=False,
               ticks="outside", ticklen=6, tickwidth=1.5, tickcolor="black",
               showgrid=True, gridcolor="#b4b4b4", griddash="dot", gridwidth=1,
               zeroline=False, showline=True, linecolor="black", linewidth=3,
               tickfont=dict(family=NARROW, size=14)),
    yaxis2=dict(range=[0, 2], tickvals=pcp_ticks, ticktext=pcp_ticktext, automargin=False,
                overlaying="y", side="right",
                ticks="outside", ticklen=6, tickwidth=1.5, tickcolor="black",
                showgrid=False, zeroline=False,
                showline=True, linecolor="black", linewidth=3,
                tickfont=dict(family=NARROW, size=14)),
)

# drop the browser's default body margin so the figure sits at the page corner
fig.write_html("out.html", config={"displayModeBar": False},
               post_script="document.body.style.margin='0';document.body.style.overflow='hidden';")
